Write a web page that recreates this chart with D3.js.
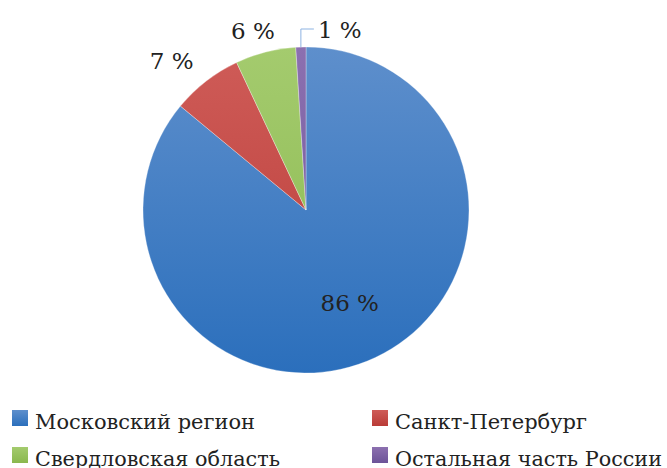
<!doctype html>
<html>
<head>
<meta charset="UTF-8">
<script src="https://d3js.org/d3.v7.min.js"></script>
<style>
  body { margin: 0; background: #fff; }
</style>
</head>
<body>
<svg id="chart" width="667" height="468"></svg>
<script>
// data
var regions = ["Московский регион", "Санкт-Петербург", "Свердловская область", "Остальная часть России"];
var shares = [86, 7, 6, 1];
var labels = ["86 %", "7 %", "6 %", "1 %"];
var colorsTop = ["#5e8fcc", "#cf5c58", "#a4cb6e", "#8c70b0"];
var colorsBottom = ["#2b6fbc", "#b93b37", "#8ab84e", "#6c5398"];

var FONT = "'DejaVu Serif', 'Liberation Serif', serif";

var svg = d3.select("#chart");
var cx = 306, cy = 210, r = 163;

var defs = svg.append("defs");
regions.forEach(function(d, i){
    var g = defs.append("linearGradient")
        .attr("id", "grad" + i)
        .attr("x1", 0).attr("y1", 0).attr("x2", 0).attr("y2", 1);
    g.append("stop").attr("offset", "0%").attr("stop-color", colorsTop[i]);
    g.append("stop").attr("offset", "100%").attr("stop-color", colorsBottom[i]);
    var gp = defs.append("linearGradient")
        .attr("id", "pgrad" + i)
        .attr("gradientUnits", "userSpaceOnUse")
        .attr("x1", 0).attr("y1", -r).attr("x2", 0).attr("y2", r);
    gp.append("stop").attr("offset", "0%").attr("stop-color", colorsTop[i]);
    gp.append("stop").attr("offset", "100%").attr("stop-color", colorsBottom[i]);
});

var pie = d3.pie().sort(null).value(function(d){ return d; });
var arcs = pie(shares);
var arc = d3.arc().innerRadius(0).outerRadius(r);

var g = svg.append("g").attr("transform", "translate(" + cx + "," + cy + ")");
g.selectAll("path.slice")
    .data(arcs)
    .enter()
    .append("path")
    .attr("class", "slice")
    .attr("d", arc)
    .attr("fill", function(d, i){ return "url(#pgrad" + i + ")"; })
    .attr("stroke", "#ffffff")
    .attr("stroke-opacity", 0.5)
    .attr("stroke-width", 0.6);

// leader line for the 1 % slice
var a3 = arcs[3];
var mid = (a3.startAngle + a3.endAngle) / 2;
var px = Math.sin(mid) * r, py = -Math.cos(mid) * r;
g.append("path")
    .attr("d", "M" + px + "," + py + "L" + px + "," + (-r - 18) + "L" + (px + 13) + "," + (-r - 18))
    .attr("fill", "none")
    .attr("stroke", "#8db3e2")
    .attr("stroke-width", 1);

// labels: inside for the big slice, outside for the small ones
var inner = d3.arc().innerRadius(r * 0.63).outerRadius(r * 0.63);
var outer = d3.arc().innerRadius(r + 30).outerRadius(r + 30);
var nudge = [[0, 0], [-16, 3], [-5, 8], [0, 0]];
g.selectAll("text.lbl")
    .data(arcs)
    .enter()
    .append("text")
    .attr("class", "lbl")
    .attr("font-family", FONT)
    .attr("font-size", 23)
    .attr("fill", "#222")
    .attr("text-anchor", function(d, i){ return i == 3 ? "start" : "middle"; })
    .attr("x", function(d, i){
        if (i == 0) return inner.centroid(d)[0];
        if (i == 3) return px + 17;
        return outer.centroid(d)[0] + nudge[i][0];
    })
    .attr("y", function(d, i){
        if (i == 0) return inner.centroid(d)[1] + 8;
        if (i == 3) return -r - 17 + 8;
        return outer.centroid(d)[1] + nudge[i][1] + 8;
    })
    .text(function(d, i){ return labels[i]; });

// legend
var legX = [12, 372], legY = [410, 447];
var legW = [220, 192, 245, 267];
var leg = svg.selectAll("g.leg")
    .data(regions)
    .enter()
    .append("g")
    .attr("class", "leg")
    .attr("transform", function(d, i){
        return "translate(" + legX[i % 2] + "," + legY[Math.floor(i / 2)] + ")";
    });
leg.append("rect")
    .attr("width", 16).attr("height", 16)
    .attr("fill", function(d, i){ return "url(#grad" + i + ")"; });
leg.append("text")
    .attr("x", 23)
    .attr("y", 19)
    .attr("font-family", FONT)
    .attr("font-size", 21)
    .attr("fill", "#222")
    .attr("textLength", function(d, i){ return legW[i]; })
    .attr("lengthAdjust", "spacingAndGlyphs")
    .text(function(d){ return d; });
</script>
</body>
</html>
